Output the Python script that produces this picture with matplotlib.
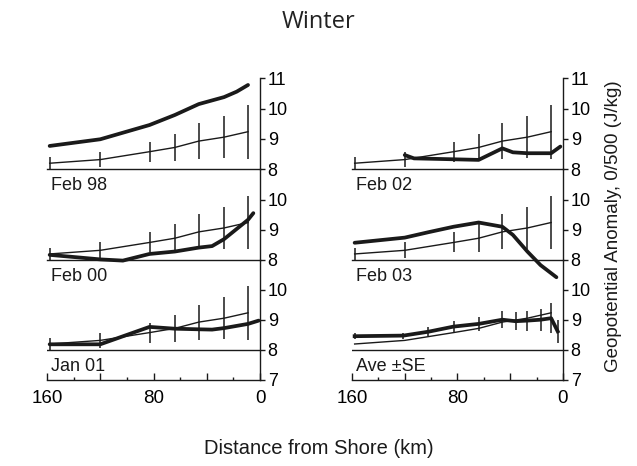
import numpy as np
import matplotlib.pyplot as plt

plt.rcParams["font.family"] = ["Liberation Sans", "DejaVu Sans"]

# =========================
# DATA
# =========================
# all-years average, with standard error, at the CTD stations
STATION_KM = [158, 120, 83, 64, 46, 27, 9]
AVE_MEAN = [8.20, 8.32, 8.58, 8.72, 8.93, 9.06, 9.24]
AVE_SE = [0.19, 0.26, 0.33, 0.46, 0.58, 0.70, 0.89]

FEB98_KM = [158, 120, 83, 64, 46, 27, 17.5, 9]
FEB98_VAL = [8.77, 8.99, 9.46, 9.79, 10.15, 10.38, 10.56, 10.78]

FEB02_KM = [120, 113, 83, 64, 46, 38, 27, 9, 2]
FEB02_VAL = [8.47, 8.36, 8.33, 8.31, 8.69, 8.56, 8.53, 8.53, 8.75]

FEB00_KM = [158, 120, 103, 83, 64, 46, 36, 27, 9, 5]
FEB00_VAL = [8.17, 8.02, 7.98, 8.20, 8.28, 8.41, 8.46, 8.69, 9.33, 9.55]

FEB03_KM = [158, 120, 102, 83, 64, 46, 38, 27, 17, 5]
FEB03_VAL = [8.57, 8.74, 8.92, 9.10, 9.24, 9.10, 8.83, 8.28, 7.83, 7.43]

JAN01_KM = [158, 120, 83, 64, 46, 36, 27, 9, 1]
JAN01_VAL = [8.19, 8.19, 8.77, 8.71, 8.69, 8.68, 8.73, 8.87, 8.98]

# winter average +- SE (bottom right panel)
WINTER_KM = [158, 121, 102, 83, 64, 46, 36, 27, 17, 9, 4]
WINTER_MEAN = [8.46, 8.48, 8.61, 8.78, 8.87, 9.01, 8.96, 8.98, 9.01, 9.06, 8.62]
WINTER_SE = [0.10, 0.10, 0.15, 0.19, 0.23, 0.28, 0.30, 0.33, 0.37, 0.50, 0.39]

PANEL_LABELS = ["Feb 98", "Feb 02", "Feb 00", "Feb 03", "Jan 01", "Ave \u00b1SE"]

# =========================
# LAYOUT
# =========================
W, H = 637, 466
COLS = [(47, 213), (352, 211)]                 # left px, width px
ROWS = [(78.3, 169.3), (169.3, 260), (260, 380)]  # top px, bottom px
YLIMS = [(8, 11), (8, 11), (7, 11)]
YTICKS = [[8, 9, 10, 11], [8, 9, 10], [7, 8, 9, 10]]

INK = "#1a1a1a"
FS = 13

fig = plt.figure(figsize=(W / 100, H / 100), dpi=100)


def make_axes(row, col):
    left, width = COLS[col]
    top, bottom = ROWS[row]
    ax = fig.add_axes([left / W, 1 - bottom / H, width / W, (bottom - top) / H])
    ax.set_xlim(160, 0)
    ax.set_ylim(*YLIMS[row])
    ax.patch.set_alpha(0)

    ax.spines["top"].set_visible(False)
    ax.spines["left"].set_visible(False)
    for s in ["right", "bottom"]:
        ax.spines[s].set_color(INK)
        ax.spines[s].set_linewidth(1.0)

    ax.yaxis.tick_right()
    ax.set_yticks(YTICKS[row])
    ax.tick_params(axis="y", direction="out", length=3.5, width=1.0,
                   color=INK, labelsize=FS, pad=2)

    if row == 2:
        ax.axhline(8, color=INK, lw=1.0)
        ax.set_xticks([160, 120, 80, 40, 0])
        ax.set_xticklabels(["160", "", "80", "", "0"])
        ax.set_xticks([140, 100, 60, 20], minor=True)
        ax.tick_params(axis="x", which="major", direction="in", length=5,
                       width=1.0, color=INK, labelsize=FS + 0.5, pad=7)
        ax.tick_params(axis="x", which="minor", direction="in", length=2.5,
                       width=1.0, color=INK)
    else:
        ax.set_xticks([])
    return ax


def draw_average(ax):
    ax.errorbar(STATION_KM, AVE_MEAN, yerr=AVE_SE, color=INK, lw=1.0,
                elinewidth=1.1, capsize=0, zorder=2)


def label_panel(ax, text):
    ax.text(157, 7.74, text, ha="left", va="top", fontsize=FS, color=INK,
            clip_on=False)


years = [
    (0, 0, FEB98_KM, FEB98_VAL),
    (0, 1, FEB02_KM, FEB02_VAL),
    (1, 0, FEB00_KM, FEB00_VAL),
    (1, 1, FEB03_KM, FEB03_VAL),
    (2, 0, JAN01_KM, JAN01_VAL),
]

for i, (row, col, km, val) in enumerate(years):
    ax = make_axes(row, col)
    draw_average(ax)
    ax.plot(km, val, color=INK, lw=2.7, solid_capstyle="round",
            solid_joinstyle="round", zorder=3, clip_on=False)
    label_panel(ax, PANEL_LABELS[i])

# Ave +- SE panel
ax = make_axes(2, 1)
ax.plot(STATION_KM, AVE_MEAN, color=INK, lw=1.0, zorder=2)
ax.errorbar(WINTER_KM, WINTER_MEAN, yerr=WINTER_SE, color=INK, lw=2.7,
            elinewidth=1.1, capsize=0, zorder=3)
label_panel(ax, PANEL_LABELS[5])

# =========================
# Figure texts
# =========================
fig.text(0.5, 1 - 22 / H, "Winter", ha="center", va="center",
         fontsize=17, family=["Open Sans", "DejaVu Sans"], color="#222222")
fig.text(0.5, 1 - 448 / H, "Distance from Shore (km)", ha="center",
         va="center", fontsize=14.5, color=INK)
fig.text(614 / W, 1 - 226 / H, "Geopotential Anomaly, 0/500 (J/kg)",
         ha="center", va="center", rotation=90, fontsize=13.5, color=INK)

fig.savefig("out.png", dpi=100)
